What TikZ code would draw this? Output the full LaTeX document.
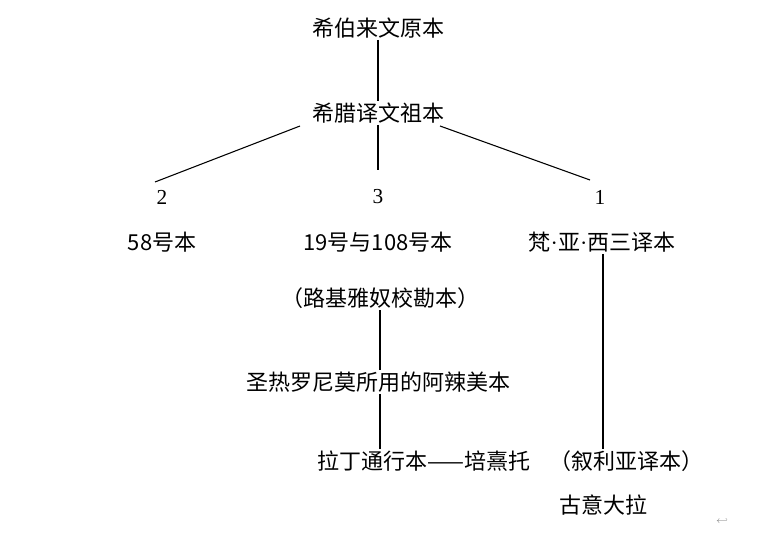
\documentclass[tikz,border=0pt]{standalone}
\usepackage{fontspec}
\setmainfont{Liberation Serif}
\newfontfamily\cjk{Noto Sans CJK SC}
\usetikzlibrary{positioning}
\newcommand{\mdot}{{\fontspec{Liberation Serif}·}}
\tikzstyle{txt} = [inner sep=1pt, font=\cjk\fontsize{16.5}{18}\selectfont]
\tikzstyle{num} = [inner sep=1pt, font=\fontsize{16}{18}\selectfont]
\tikzstyle{edge} = [thick]

\begin{document}
\begin{tikzpicture}[x=0.75pt, y=-0.75pt]
    \useasboundingbox (0,0) rectangle (778,545);
    \node (hebrew) [txt] at (378,28) {希伯来文原本};
    \node (greek) [txt] at (378,113) {希腊译文祖本};
    \node (n2) [num] at (162,197) {2};
    \node (n3) [num] at (378,197) {3};
    \node (n1) [num] at (600,197) {1};
    \node (c58) [txt] at (162,242) {58号本};
    \node (c19) [txt] at (378,242) {19号与108号本};
    \node (fan) [txt] at (602,242) {梵\mdot 亚\mdot 西三译本};
    \node (lucian) [txt] at (380,298) {（路基雅奴校勘本）};
    \node (jerome) [txt] at (378,382) {圣热罗尼莫所用的阿辣美本};
    \node (latin) [txt] at (424,461) {拉丁通行本——培熹托};
    \node (syriac) [txt] at (626,461) {（叙利亚译本）};
    \node (itala) [txt] at (603,505) {古意大拉};
    \node [font=\fontsize{7}{8}\selectfont, text=gray] at (722,521) {$\hookleftarrow$};

    \draw [edge] (hebrew) -- (greek);
    \draw [edge] (300,126) -- (155,182);
    \draw [edge] (greek) -- (378,170);
    \draw [edge] (440,126) -- (590,180);
    \draw [edge] (lucian.south -| 380,0) -- (jerome.north -| 380,0);
    \draw [edge] (jerome.south -| 380,0) -- (latin.north -| 380,0);
    \draw [edge] (fan.south -| 603,0) -- (syriac.north -| 603,0);
\end{tikzpicture}
\end{document}
